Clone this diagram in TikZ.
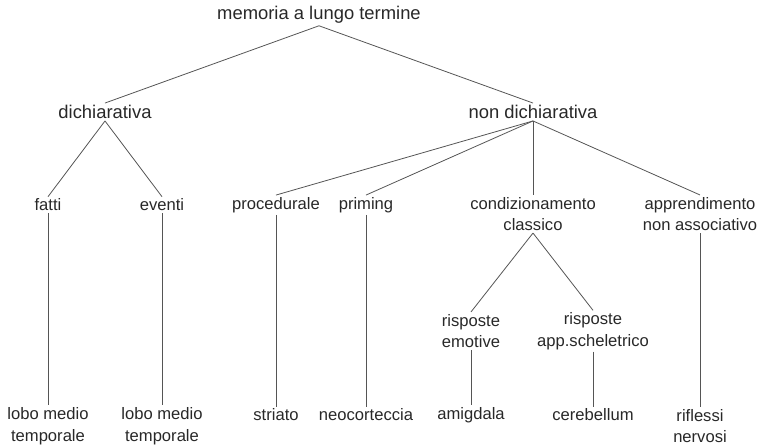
\documentclass[tikz,border=0pt]{standalone}
\usepackage{fontspec}
\setmainfont{Liberation Sans}
\usepackage{tikz}
\usetikzlibrary{positioning}
\definecolor{mtext}{RGB}{40,40,40}
\definecolor{mline}{RGB}{85,85,85}

\begin{document}
\begin{tikzpicture}[
  node distance=90pt and 60pt, on grid,
  every node/.style={font=\fontsize{16.6}{21.5}\selectfont},
  term/.style={text=mtext, align=center, inner xsep=2pt, inner ysep=2pt},
  headterm/.style={term, font=\fontsize{18.4}{22}\selectfont},
  link/.style={draw=mline, line width=0.8pt}
]
  \useasboundingbox (0,0) rectangle (758pt,-447pt);

  \node[headterm] (mem) at (319pt,-15pt) {memoria a lungo termine};
  \node[headterm, below left=97pt and 214pt of mem] (dich) {dichiarativa};
  \node[headterm, below right=97pt and 214pt of mem] (nondich) {non dichiarativa};

  \node[term, below left=93pt and 57pt of dich] (fatti) {fatti};
  \node[term, below right=93pt and 57pt of dich] (eventi) {eventi};
  \node[term, below left=93pt and 257pt of nondich] (proc) {procedurale};
  \node[term, below left=93pt and 167pt of nondich] (priming) {priming};
  \node[term, below=102pt of nondich] (cond) {condizionamento\\classico};
  \node[term, below right=102pt and 167pt of nondich] (appr) {apprendimento\\non associativo};

  \node[term, below left=117pt and 62pt of cond] (emot) {risposte\\emotive};
  \node[term, below right=117pt and 60pt of cond] (schel) {risposte\\app.scheletrico};

  \node[term, below=221pt of fatti] (lobo1) {lobo medio\\temporale};
  \node[term, below=221pt of eventi] (lobo2) {lobo medio\\temporale};
  \node[term, below=210pt of proc] (striato) {striato};
  \node[term, below=210pt of priming] (neo) {neocorteccia};
  \node[term, below=84pt of emot] (amig) {amigdala};
  \node[term, below=84pt of schel] (cereb) {cerebellum};
  \node[term, below=212pt of appr] (rifl) {riflessi\\nervosi};

  \draw[link] (mem.south) -- (dich.north);
  \draw[link] (mem.south) -- (nondich.north);
  \draw[link] (dich.south) -- (fatti.north);
  \draw[link] (dich.south) -- (eventi.north);
  \draw[link] (nondich.south) -- (proc.north);
  \draw[link] (nondich.south) -- (priming.north);
  \draw[link] (nondich.south) -- (cond.north);
  \draw[link] (nondich.south) -- (appr.north);
  \draw[link] (cond.south) -- (emot.north);
  \draw[link] (cond.south) -- (schel.north);

  \draw[link] (fatti) -- (lobo1);
  \draw[link] (eventi) -- (lobo2);
  \draw[link] (proc) -- (striato);
  \draw[link] (priming) -- (neo);
  \draw[link] (emot) -- (amig);
  \draw[link] (schel) -- (cereb);
  \draw[link] (appr) -- (rifl);
\end{tikzpicture}
\end{document}
